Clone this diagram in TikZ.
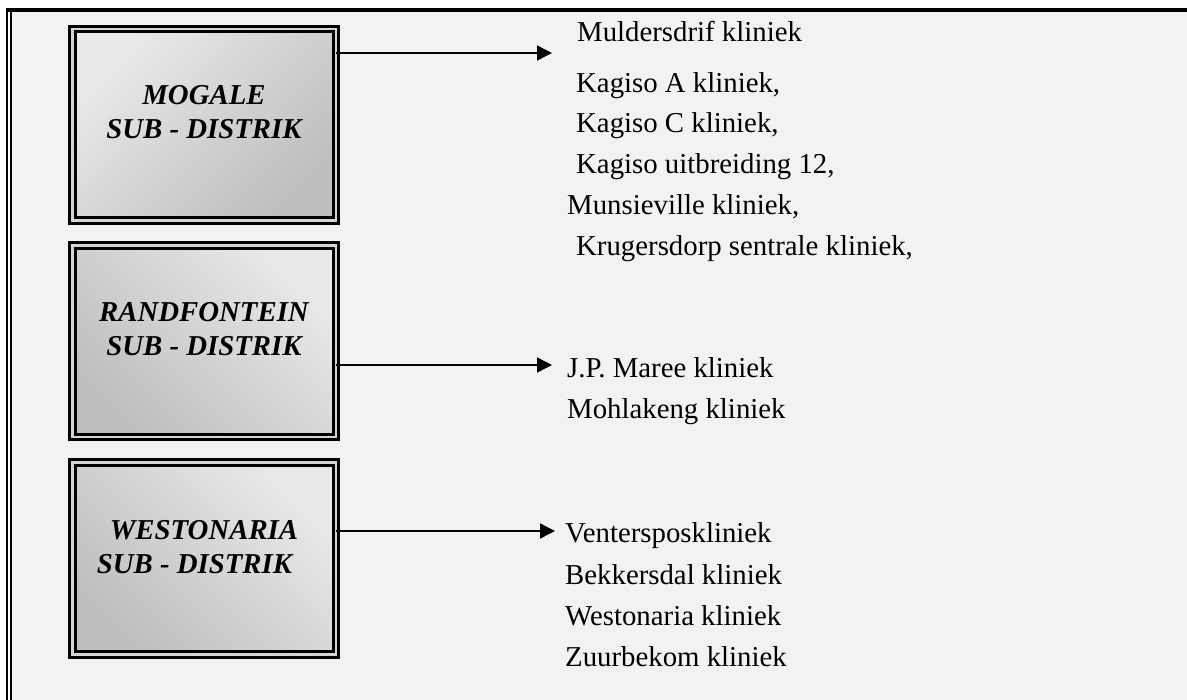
\documentclass[tikz,border=0pt]{standalone}
\usepackage{fontspec}
\setmainfont{Liberation Serif}
\usetikzlibrary{arrows.meta}
\definecolor{pagebg}{HTML}{F2F2F2}
\definecolor{boxlight}{HTML}{E9E9E9}
\definecolor{boxdark}{HTML}{BEBEBE}
\definecolor{gapgray}{HTML}{D4D4D4}
\begin{document}
\begin{tikzpicture}[x=1pt,y=-1pt,
  district/.style={draw=black, double=gapgray, line width=3pt, double distance=2.5pt,
    minimum width=263.5pt, minimum height=191.5pt, outer sep=0pt, inner sep=0pt,
    top color=boxlight, bottom color=boxdark},
  dname/.style={font=\fontsize{28.8pt}{34pt}\selectfont\bfseries\itshape,
    align=center, anchor=base, inner sep=0pt},
  clinic/.style={font=\fontsize{28.8pt}{34pt}\selectfont, anchor=base west, inner sep=0pt},
  link/.style={line width=1.5pt, -{Triangle[length=15pt,width=15pt]}}
]
\useasboundingbox (0,0) rectangle (1187,700);
% page frame: thick rule on top, double rule on the left
\fill[pagebg] (11.5,12) rectangle (1187,700);
\fill[black] (6,8) rectangle (1187,12);
\fill[black] (6,8) rectangle (8,700);
\fill[black] (10,12) rectangle (11.5,700);

% sub-district boxes
\node[district, shading angle=45]  (mog) at (204,125)   {};
\node[district, shading angle=-45] (ran) at (204,341.5) {};
\node[district, shading angle=-45] (wes) at (204,558.5) {};

% box titles (anchor = baseline of the second line)
\node[dname] (mogt) at (204,139) {MOGALE\\SUB - DISTRIK};
\node[dname] (rant) at (204,356) {RANDFONTEIN\\SUB - DISTRIK};
\node[dname] (west) at (204,573) {WESTONARIA\\SUB - DISTRIK\hspace*{19pt}};

% clinics of Mogale
\node[clinic] (c1) at (577,42)  {Muldersdrif kliniek};
\node[clinic] (c2) at (576,93)  {Kagiso A kliniek,};
\node[clinic] (c3) at (576,133) {Kagiso C kliniek,};
\node[clinic] (c4) at (576,174) {Kagiso uitbreiding 12,};
\node[clinic] (c5) at (567,215) {Munsieville kliniek,};
\node[clinic] (c6) at (576,256) {Krugersdorp sentrale kliniek,};
% clinics of Randfontein
\node[clinic] (c7) at (567,378) {J.P. Maree kliniek};
\node[clinic] (c8) at (567,419) {Mohlakeng kliniek};
% clinics of Westonaria
\node[clinic] (c9)  at (565,543) {Ventersposkliniek};
\node[clinic] (c10) at (565,584) {Bekkersdal kliniek};
\node[clinic] (c11) at (565,625) {Westonaria kliniek};
\node[clinic] (c12) at (565,666) {Zuurbekom kliniek};

% connectors
\coordinate (e1) at (552,53);
\coordinate (e2) at (552,365);
\coordinate (e3) at (555,531);
\draw[link] (mog.east |- e1) -- (e1);
\draw[link] (ran.east |- e2) -- (e2);
\draw[link] (wes.east |- e3) -- (e3);
\end{tikzpicture}
\end{document}
